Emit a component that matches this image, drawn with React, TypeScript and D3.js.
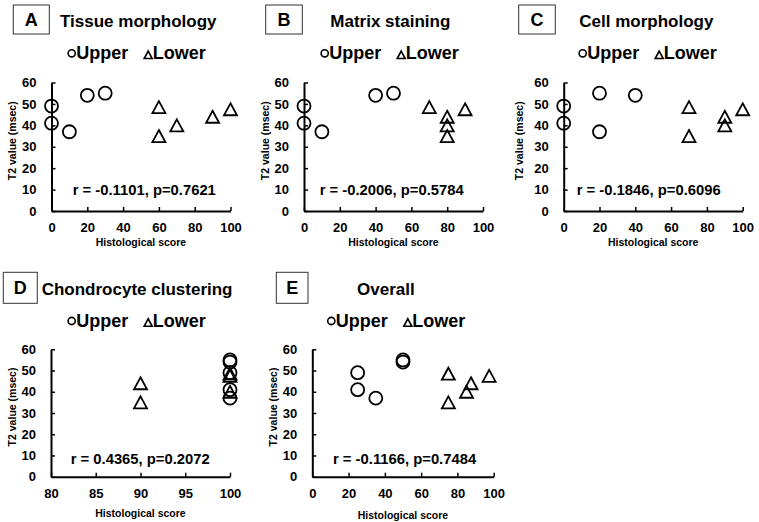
import { useEffect, useRef } from 'react';
import * as d3 from 'd3';

// T2 values (msec) of the same subjects in every panel
const upperT2 = [49, 41, 37, 54, 55];
const lowerT2 = [48.5, 35, 40, 44, 47.5];

// histological scores per panel
const tissueUpper = [0, 0, 10, 20, 30];
const tissueLower = [60, 60, 70, 90, 100];
const matrixUpper = [0, 0, 10, 40, 50];
const matrixLower = [70, 80, 80, 80, 90];
const cellUpper = [0, 0, 20, 40, 20];
const cellLower = [70, 70, 90, 90, 100];
const clusterUpper = [100, 100, 100, 100, 100];
const clusterLower = [100, 90, 100, 90, 100];
const overallUpper = [25, 25, 35, 50, 50];
const overallLower = [75, 75, 85, 87.5, 97.5];

const panelLetters = ['A', 'B', 'C', 'D', 'E'];
const panelTitles = ['Tissue morphology', 'Matrix staining', 'Cell morphology', 'Chondrocyte clustering', 'Overall'];
const statLabels = [
  'r = -0.1101, p=0.7621',
  'r = -0.2006, p=0.5784',
  'r = -0.1846, p=0.6096',
  'r = 0.4365, p=0.2072',
  'r = -0.1166, p=0.7484',
];
const xTicksFull = [0, 20, 40, 60, 80, 100];
const xTicksCluster = [80, 85, 90, 95, 100];
const yTicks = [0, 10, 20, 30, 40, 50, 60];

const FONT = "'Liberation Sans', Arial, sans-serif";
const W = 759;
const H = 522;

interface Layout {
  x0: number;
  x1: number;
  yTop: number;
  yBot: number;
  box: [number, number, number, number];
  titleX: number;
  titleY: number;
  legendX: number;
  legendY: number;
  statX: number;
  statY: number;
  yTitleDx: number;
  xTitleDy: number;
}

const layouts: Layout[] = [
  { x0: 51.5, x1: 230.5, yTop: 82.5, yBot: 211, box: [13.3, 5, 36, 29], titleX: 60, titleY: 27, legendX: 71.7, legendY: 53.3, statX: 72.7, statY: 195, yTitleDx: 39, xTitleDy: 34.5 },
  { x0: 304, x1: 483, yTop: 82.5, yBot: 211, box: [265.7, 5, 36.6, 29], titleX: 330.3, titleY: 27, legendX: 324.7, legendY: 53.3, statX: 319.7, statY: 195, yTitleDx: 39, xTitleDy: 34.5 },
  { x0: 563.7, x1: 742.7, yTop: 82.5, yBot: 211, box: [518.7, 5, 36.6, 29], titleX: 579.3, titleY: 27, legendX: 582.7, legendY: 53.3, statX: 576.7, statY: 195, yTitleDx: 44, xTitleDy: 34.5 },
  { x0: 51, x1: 230, yTop: 349.3, yBot: 476.7, box: [3.3, 272.3, 34, 31], titleX: 41.7, titleY: 295, legendX: 71.7, legendY: 321, statX: 70.7, statY: 464, yTitleDx: 39, xTitleDy: 40.5 },
  { x0: 312.3, x1: 493.7, yTop: 349.3, yBot: 476.7, box: [276.3, 272.3, 31.7, 31], titleX: 357, titleY: 295, legendX: 331.3, legendY: 321, statX: 333, statY: 464, yTitleDx: 39, xTitleDy: 42 },
];

const panelData = [
  { upper: tissueUpper, lower: tissueLower, xTicks: xTicksFull },
  { upper: matrixUpper, lower: matrixLower, xTicks: xTicksFull },
  { upper: cellUpper, lower: cellLower, xTicks: xTicksFull },
  { upper: clusterUpper, lower: clusterLower, xTicks: xTicksCluster },
  { upper: overallUpper, lower: overallLower, xTicks: xTicksFull },
];

// triangle centred on its bounding box
const triPath = (w: number, h: number) => `M0,${-h / 2}L${w / 2},${h / 2}L${-w / 2},${h / 2}Z`;

const App = () => {
  const ref = useRef<SVGSVGElement | null>(null);

  useEffect(() => {
    const svg = d3.select(ref.current);
    svg.selectAll('*').remove();
    svg.append('rect').attr('width', W).attr('height', H).attr('fill', '#fff');

    panelData.forEach((p, i) => {
      const L = layouts[i];
      const xDomain = d3.extent(p.xTicks) as [number, number];
      const x = d3.scaleLinear().domain(xDomain).range([L.x0, L.x1]);
      const y = d3.scaleLinear().domain([0, 60]).range([L.yBot, L.yTop]);
      const g = svg.append('g').attr('font-family', FONT).attr('font-weight', 'bold').attr('fill', '#000');

      // letter box
      g.append('rect')
        .attr('x', L.box[0])
        .attr('y', L.box[1])
        .attr('width', L.box[2])
        .attr('height', L.box[3])
        .attr('fill', 'none')
        .attr('stroke', '#333')
        .attr('stroke-width', 1);
      g.append('text')
        .attr('x', L.box[0] + L.box[2] / 2)
        .attr('y', L.box[1] + L.box[3] / 2 + 6.5)
        .attr('text-anchor', 'middle')
        .attr('font-size', 18)
        .text(panelLetters[i]);

      g.append('text').attr('x', L.titleX).attr('y', L.titleY).attr('font-size', 17).text(panelTitles[i]);

      // legend
      g.append('circle')
        .attr('cx', L.legendX)
        .attr('cy', L.legendY)
        .attr('r', 3.6)
        .attr('fill', 'none')
        .attr('stroke', '#000')
        .attr('stroke-width', 1.6);
      g.append('text')
        .attr('x', L.legendX + 4.5)
        .attr('y', L.legendY + 6)
        .attr('font-size', 18)
        .text('Upper');
      g.append('path')
        .attr('d', triPath(8, 7.5))
        .attr('transform', `translate(${L.legendX + 76.5},${L.legendY + 1.5})`)
        .attr('fill', 'none')
        .attr('stroke', '#000')
        .attr('stroke-width', 1.6);
      g.append('text')
        .attr('x', L.legendX + 81)
        .attr('y', L.legendY + 6)
        .attr('font-size', 18)
        .text('Lower');

      // axes
      const xAxis = d3.axisBottom(x).tickValues(p.xTicks).tickSize(-4).tickPadding(12).tickSizeOuter(0);
      g.append('g')
        .attr('transform', `translate(0,${L.yBot})`)
        .call(xAxis)
        .call(a => a.select('.domain').attr('stroke-width', 2))
        .call(a => a.selectAll('.tick line').attr('stroke-width', 1.5))
        .call(a => a.selectAll('.tick text').attr('font-size', 13).attr('font-family', FONT).attr('font-weight', 'bold').attr('fill', '#000'));

      const yAxis = d3.axisLeft(y).tickValues(yTicks).tickSize(-4).tickPadding(15).tickSizeOuter(0);
      g.append('g')
        .attr('transform', `translate(${L.x0},0)`)
        .call(yAxis)
        .call(a => a.select('.domain').attr('stroke-width', 2))
        .call(a => a.selectAll('.tick line').attr('stroke-width', 1.5))
        .call(a => a.selectAll('.tick text').attr('font-size', 13).attr('font-family', FONT).attr('font-weight', 'bold').attr('fill', '#000'));

      // axis titles
      g.append('text')
        .attr('x', (L.x0 + L.x1) / 2)
        .attr('y', L.yBot + L.xTitleDy)
        .attr('text-anchor', 'middle')
        .attr('font-size', 10.5)
        .text('Histological score');
      g.append('text')
        .attr('transform', `translate(${L.x0 - L.yTitleDx + 3.5},${(L.yTop + L.yBot) / 2 - 6}) rotate(-90)`)
        .attr('text-anchor', 'middle')
        .attr('font-size', 10.5)
        .text('T2 value (msec)');

      // stat
      g.append('text').attr('x', L.statX).attr('y', L.statY).attr('font-size', 14.8).text(statLabels[i]);

      // markers
      g.append('g')
        .selectAll('circle')
        .data(p.upper)
        .join('circle')
        .attr('cx', d => x(d))
        .attr('cy', (_, j) => y(upperT2[j]))
        .attr('r', 6.5)
        .attr('fill', 'none')
        .attr('stroke', '#000')
        .attr('stroke-width', 1.8);
      g.append('g')
        .selectAll('path')
        .data(p.lower)
        .join('path')
        .attr('d', triPath(13, 12))
        .attr('transform', (d, j) => `translate(${x(d)},${y(lowerT2[j])})`)
        .attr('fill', 'none')
        .attr('stroke', '#000')
        .attr('stroke-width', 1.8)
        .attr('stroke-linejoin', 'miter');
    });
  }, []);

  return (
    <svg
      ref={ref}
      width={W}
      height={H}
      viewBox={`0 0 ${W} ${H}`}
      style={{ position: 'absolute', left: 0, top: 0, display: 'block' }}
    />
  );
};

export default App;
